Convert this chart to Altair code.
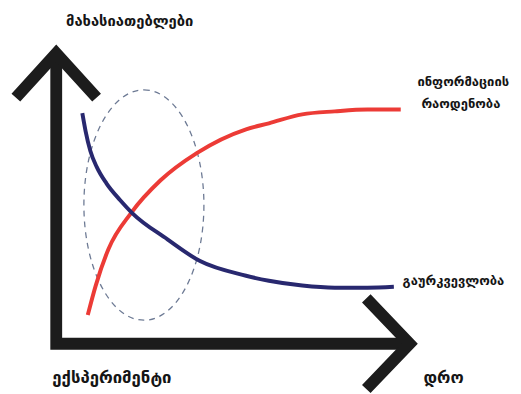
import altair as alt
import pandas as pd

# ---- data (time units 0..10, characteristic units 0..10) ----
info_time = [0.87, 1.09, 1.44, 2.07, 2.88, 3.89, 5.24, 5.87, 6.79, 7.69, 8.59, 9.51]
info_amount = [0.96, 1.95, 3.17, 4.39, 5.48, 6.40, 7.19, 7.39, 7.69, 7.79, 7.85, 7.85]

unc_time = [0.72, 0.81, 0.94, 1.12, 1.39, 1.76, 2.09, 3.07, 3.97, 5.24, 5.87, 6.79, 7.69, 8.59, 9.32]
uncertainty = [7.73, 7.13, 6.47, 5.92, 5.37, 4.82, 4.39, 3.50, 2.77, 2.28, 2.11, 1.95, 1.88, 1.88, 1.91]

series_names = ["ინფორმაციის რაოდენობა", "გაურკვევლობა"]
series_colors = ["#ec3b36", "#28286f"]

# experiment region (ellipse centre)
exp_center_t = [2.42]
exp_center_v = [4.65]

# axis frame (corner path) and arrow tips
frame_t = [0.0, 0.0, 9.755]
frame_v = [9.736, 0.0, 0.0]
head_t = [0.0, 9.755]
head_v = [9.736, 0.0]

# labels
label_text = ["მახასიათებლები", "ინფორმაციის", "რაოდენობა", "გაურკვევლობა", "ექსპერიმენტი", "დრო"]
label_t = [0.27, 9.97, 10.08, 9.56, -0.11, 10.14]
label_v = [10.83, 8.78, 8.02, 2.11, -1.16, -1.16]
label_size = [15, 13.2, 13.2, 13.2, 17, 16.5]

# ---- tables ----
rows = []
for i, (t, v) in enumerate(zip(info_time, info_amount)):
    rows.append({"series": series_names[0], "i": i, "t": t, "v": v})
for i, (t, v) in enumerate(zip(unc_time, uncertainty)):
    rows.append({"series": series_names[1], "i": i, "t": t, "v": v})
curve_df = pd.DataFrame(rows)

frame_df = pd.DataFrame({"i": range(len(frame_t)), "t": frame_t, "v": frame_v})
head_df = pd.DataFrame({
    "t": head_t, "v": head_v,
    "shape": ["M-0.911,1L0,0L0.911,1", "M-0.957,-1L0,0L-0.957,1"],
    "size": [8100, 8464],
})
ell_df = pd.DataFrame({"t": exp_center_t, "v": exp_center_v})
label_df = pd.DataFrame({"text": label_text, "t": label_t, "v": label_v, "fs": label_size})

xs = alt.Scale(domain=[0, 10], nice=False, zero=False)
ys = alt.Scale(domain=[0, 10], nice=False, zero=False)
X = alt.X("t:Q", scale=xs, axis=None)
Y = alt.Y("v:Q", scale=ys, axis=None)

ellipse_path = ("M0,-1C0.288,-1 0.521,-0.552 0.521,0C0.521,0.552 0.288,1 0,1"
                "C-0.288,1 -0.521,0.552 -0.521,0C-0.521,-0.552 -0.288,-1 0,-1Z")

ellipse = alt.Chart(ell_df).mark_point(
    shape=ellipse_path, size=54756, filled=False, stroke="#6d7a94",
    strokeWidth=1.3, strokeDash=[6, 5], opacity=1,
).encode(x=X, y=Y)

curves = alt.Chart(curve_df).mark_line(strokeWidth=4, interpolate="monotone").encode(
    x=X, y=Y,
    color=alt.Color("series:N", scale=alt.Scale(domain=series_names, range=series_colors), legend=None),
    order="i:Q",
)

frame = alt.Chart(frame_df).mark_line(
    strokeWidth=12, strokeJoin="miter", strokeCap="butt", color="#1c1c1c"
).encode(x=X, y=Y, order="i:Q")

heads = alt.Chart(head_df).mark_point(
    filled=False, strokeWidth=12, strokeJoin="miter", strokeCap="butt",
    stroke="#1c1c1c", opacity=1,
).encode(
    x=X, y=Y,
    shape=alt.Shape("shape:N", scale=None),
    size=alt.Size("size:Q", scale=None),
)

labels = alt.Chart(label_df).mark_text(
    align="left", baseline="middle", font="DejaVu Sans", fontWeight="bold", color="#151515"
).encode(
    x=X, y=Y, text="text:N", size=alt.Size("fs:Q", scale=None),
)

chart = alt.layer(ellipse, curves, frame, heads, labels).properties(
    width=368, height=303,
    padding={"left": 49, "top": 35, "right": 96, "bottom": 48},
    autosize=alt.AutoSizeParams(type="none"),
    background="white",
).configure_view(stroke=None)

chart.save("out.html", embed_options={"renderer": "svg", "actions": False})
